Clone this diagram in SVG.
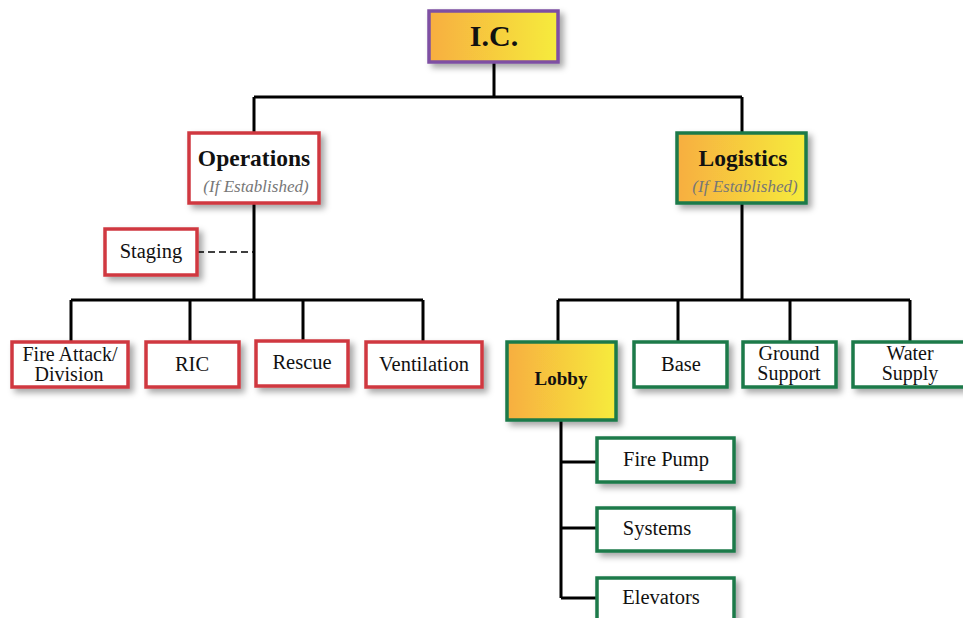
<svg xmlns="http://www.w3.org/2000/svg" width="963" height="618" viewBox="0 0 963 618">
<style>
.box{stroke-width:3.5;filter:url(#sh)}
.red{stroke:#D03840;fill:#fff}
.grn{stroke:#1C7A4A;fill:#fff}
.gfill{fill:url(#grad)}
.t{font-family:"Liberation Serif","Times New Roman",serif;font-size:20.5px;fill:#111;text-anchor:middle}
.two{font-size:20px}
.b{font-weight:bold;font-size:23.5px}
.i{font-style:italic;font-size:17px;fill:#777}
.ln{stroke:#000;stroke-width:3;fill:none}
</style>
<defs>
<linearGradient id="grad" x1="0" y1="0" x2="1" y2="0">
<stop offset="0" stop-color="#F7AE40"/>
<stop offset="1" stop-color="#F6EC3C"/>
</linearGradient>
<filter id="sh" x="-20%" y="-20%" width="150%" height="160%">
<feDropShadow dx="4" dy="4" stdDeviation="3" flood-color="#000" flood-opacity="0.35"/>
</filter>
</defs>
<g id="connectors">
<path class="ln" d="M494 62V97M254 97H742M254 97V133M742 97V133"/>
<path class="ln" d="M254 203V300M71 300H423M71 300V342M190 300V342M303 300V342M423 300V342"/>
<path d="M197 252H254" stroke="#000" stroke-width="1.5" stroke-dasharray="7,4" fill="none"/>
<path class="ln" d="M742 203V300M558 300H910M558 300V342M678 300V342M790 300V342M910 300V342"/>
<path class="ln" d="M561 420V598M561 462H597M561 528H597M561 598H597"/>
</g>
<g id="ic"><rect class="box gfill" x="429" y="11" width="129" height="51" stroke="#7E4FA3"/><text class="t b" x="494" y="46" style="font-size:30px">I.C.</text></g>
<g id="operations"><rect class="box red" x="189" y="133" width="130" height="70"/><text class="t b" x="254" y="166">Operations</text><text class="t i" x="256" y="192">(If Established)</text></g>
<g id="logistics"><rect class="box grn gfill" x="677" y="133" width="129" height="70"/><text class="t b" x="743" y="166">Logistics</text><text class="t i" x="745" y="192">(If Established)</text></g>
<g id="staging"><rect class="box red" x="105" y="229" width="92" height="46"/><text class="t" x="151" y="258">Staging</text></g>
<g id="fireattack"><rect class="box red" x="12" y="342" width="116" height="45"/><text class="t two" x="70" y="361">Fire Attack/</text><text class="t two" x="69" y="381">Division</text></g>
<g id="ric"><rect class="box red" x="146" y="342" width="93" height="45"/><text class="t" x="192" y="371">RIC</text></g>
<g id="rescue"><rect class="box red" x="256" y="341" width="92" height="45"/><text class="t" x="302" y="369">Rescue</text></g>
<g id="ventilation"><rect class="box red" x="366" y="342" width="116" height="45"/><text class="t" x="424" y="371">Ventilation</text></g>
<g id="lobby"><rect class="box grn gfill" x="507" y="342" width="109" height="78"/><text class="t b" x="561" y="385" style="font-size:19px">Lobby</text></g>
<g id="base"><rect class="box grn" x="634" y="342" width="93" height="45"/><text class="t" x="681" y="371">Base</text></g>
<g id="ground"><rect class="box grn" x="743" y="342" width="93" height="45"/><text class="t two" x="789" y="360">Ground</text><text class="t two" x="789" y="380">Support</text></g>
<g id="water"><rect class="box grn" x="853" y="342" width="115" height="45"/><text class="t two" x="910" y="360">Water</text><text class="t two" x="910" y="380">Supply</text></g>
<g id="firepump"><rect class="box grn" x="597" y="438" width="137" height="44"/><text class="t" x="666" y="466">Fire Pump</text></g>
<g id="systems"><rect class="box grn" x="597" y="508" width="137" height="43"/><text class="t" x="657" y="535">Systems</text></g>
<g id="elevators"><rect class="box grn" x="597" y="578" width="137" height="50"/><text class="t" x="661" y="604">Elevators</text></g>
</svg>
